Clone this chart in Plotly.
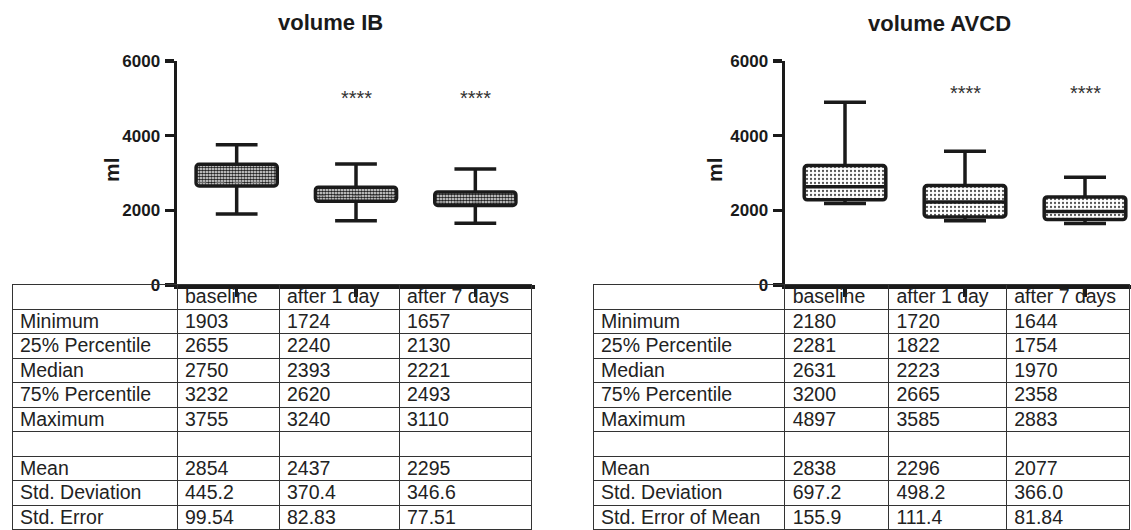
import plotly.graph_objects as go

# ---------------- data ----------------
categories = ["baseline", "after 1 day", "after 7 days"]
stat_labels_ib = ["Minimum", "25% Percentile", "Median", "75% Percentile", "Maximum",
                  "", "Mean", "Std. Deviation", "Std. Error"]
stat_labels_avcd = ["Minimum", "25% Percentile", "Median", "75% Percentile", "Maximum",
                    "", "Mean", "Std. Deviation", "Std. Error of Mean"]

ib_min = [1903, 1724, 1657]
ib_q1 = [2655, 2240, 2130]
ib_median = [2750, 2393, 2221]
ib_q3 = [3232, 2620, 2493]
ib_max = [3755, 3240, 3110]
ib_mean = [2854, 2437, 2295]
ib_sd = [445.2, 370.4, 346.6]
ib_se = [99.54, 82.83, 77.51]

avcd_min = [2180, 1720, 1644]
avcd_q1 = [2281, 1822, 1754]
avcd_median = [2631, 2223, 1970]
avcd_q3 = [3200, 2665, 2358]
avcd_max = [4897, 3585, 2883]
avcd_mean = [2838, 2296, 2077]
avcd_sd = [697.2, 498.2, 366.0]
avcd_se = [155.9, 111.4, 81.84]

y_ticks = [0, 2000, 4000, 6000]
signif_marks = ["", "****", "****"]

# ---------------- layout helpers ----------------
W, H = 1131, 530
FONT = "Liberation Sans, Arial, Helvetica, sans-serif"
INK = "#1a1a1a"
CLEAR = "rgba(0,0,0,0)"


def px(x):
    return x / W


def py(y):
    return 1 - y / H


BOX_W = 0.68
CAP_HALF = 0.175

fig = go.Figure()


def add_boxes(xa, ya, q1, med, q3, mn, mx, pattern, median_line):
    xs = list(range(len(categories)))
    fig.add_trace(go.Bar(
        x=xs, y=[b - a for a, b in zip(q1, q3)], base=q1, width=BOX_W,
        xaxis=xa, yaxis=ya, showlegend=False, hoverinfo="skip",
        marker=dict(color="white", line=dict(color=INK, width=3.5), cornerradius=3,
                    pattern=pattern),
    ))
    wx, wy = [], []
    for i, x in enumerate(xs):
        wx += [x, x, None, x, x, None,
               x - CAP_HALF, x + CAP_HALF, None, x - CAP_HALF, x + CAP_HALF, None]
        wy += [mn[i], q1[i], None, q3[i], mx[i], None,
               mn[i], mn[i], None, mx[i], mx[i], None]
    fig.add_trace(go.Scatter(x=wx, y=wy, mode="lines", xaxis=xa, yaxis=ya,
                             line=dict(color=INK, width=3.5), showlegend=False,
                             hoverinfo="skip"))
    mxs, mys = [], []
    for i, x in enumerate(xs):
        mxs += [x - BOX_W / 2 + 0.01, x + BOX_W / 2 - 0.01, None]
        mys += [med[i], med[i], None]
    fig.add_trace(go.Scatter(x=mxs, y=mys, mode="lines", xaxis=xa, yaxis=ya,
                             line=median_line, showlegend=False, hoverinfo="skip"))


add_boxes("x", "y", ib_q1, ib_median, ib_q3, ib_min, ib_max,
          dict(shape=".", size=3, solidity=0.65, fgcolor="#222", bgcolor="white",
               fillmode="replace"),
          dict(color="#777", width=1, dash="dash"))
add_boxes("x2", "y2", avcd_q1, avcd_median, avcd_q3, avcd_min, avcd_max,
          dict(shape=".", size=4, solidity=0.25, fgcolor="#555", bgcolor="white",
               fillmode="replace"),
          dict(color=INK, width=3.5))


def table_columns(mn, q1, med, q3, mx, mean, sd, se):
    cols = []
    for i in range(len(categories)):
        cols.append([str(mn[i]), str(q1[i]), str(med[i]), str(q3[i]), str(mx[i]), "",
                     str(mean[i]), f"{sd[i]:.1f}", f"{se[i]:.4g}"])
    return cols


TOP = 284      # table top edge (px)
TEXT_LIFT = 4  # text layer sits a little higher inside each row


def add_table(x0, x1, widths, labels, cols):
    header_vals = [""] + categories
    cell_vals = [labels] + cols
    # grid layer (cell borders only)
    fig.add_trace(go.Table(
        domain=dict(x=[px(x0), x1], y=[0, py(TOP)]),
        columnwidth=widths,
        header=dict(values=[""] * len(header_vals), height=25,
                    line=dict(color="#333", width=1), fill=dict(color=CLEAR)),
        cells=dict(values=[[""] * len(c) for c in cell_vals], height=24.5,
                   line=dict(color="#333", width=1), fill=dict(color=CLEAR)),
    ))
    # text layer
    fig.add_trace(go.Table(
        domain=dict(x=[px(x0), x1], y=[TEXT_LIFT / H, py(TOP - TEXT_LIFT)]),
        columnwidth=widths,
        header=dict(values=header_vals, height=25, align="left",
                    line=dict(color=CLEAR, width=0), fill=dict(color=CLEAR),
                    font=dict(family=FONT, size=19.5, color="#222")),
        cells=dict(values=cell_vals, height=24.5, align="left",
                   line=dict(color=CLEAR, width=0), fill=dict(color=CLEAR),
                   font=dict(family=FONT, size=19.5, color="#222")),
    ))


add_table(12, px(531), [165, 102, 120, 132], stat_labels_ib,
          table_columns(ib_min, ib_q1, ib_median, ib_q3, ib_max, ib_mean, ib_sd, ib_se))
add_table(593, 1.0, [192, 104, 118, 124], stat_labels_avcd,
          table_columns(avcd_min, avcd_q1, avcd_median, avcd_q3, avcd_max,
                        avcd_mean, avcd_sd, avcd_se))

xaxis_common = dict(showline=True, linewidth=3.5, linecolor=INK, ticks="outside",
                    ticklen=8, tickwidth=3.5, tickcolor=INK, showticklabels=False,
                    tickvals=list(range(len(categories))), showgrid=False,
                    zeroline=False, fixedrange=True, automargin=False)
yaxis_common = dict(showline=True, linewidth=3.5, linecolor=INK, ticks="outside",
                    ticklen=9, tickwidth=3.5, tickcolor=INK, tickvals=y_ticks,
                    range=[0, 6000], showgrid=False, zeroline=False, fixedrange=True,
                    ticklabelstandoff=1, automargin=False,
                    tickfont=dict(family=FONT, size=17, weight="bold", color=INK),
                    domain=[py(285), py(61)])

ann = []
titles = [("volume IB", 330, 23), ("volume AVCD", 939, 24)]
for t, x, y in titles:
    ann.append(dict(text=t, x=px(x), y=py(y), xref="paper", yref="paper",
                    showarrow=False, xanchor="center", yanchor="middle",
                    font=dict(family=FONT, size=22, weight="bold", color=INK)))
for x in (112, 715):
    ann.append(dict(text="ml", x=px(x), y=py(170), xref="paper", yref="paper",
                    showarrow=False, textangle=-90, xanchor="center", yanchor="middle",
                    font=dict(family=FONT, size=21, weight="bold", color=INK)))
for xa, ya, yv in (("x", "y", 5000), ("x2", "y2", 5150)):
    for i, m in enumerate(signif_marks):
        if m:
            ann.append(dict(text=m, x=i, y=yv, xref=xa, yref=ya, showarrow=False,
                            font=dict(family=FONT, size=20, color="#333")))

fig.update_layout(
    width=W, height=H,
    margin=dict(l=0, r=0, t=0, b=0, pad=0, autoexpand=False),
    paper_bgcolor="white", plot_bgcolor="white",
    showlegend=False,
    xaxis=dict(domain=[px(177), px(535)], range=[-0.5, 2.5], anchor="y", **xaxis_common),
    yaxis=dict(anchor="x", **yaxis_common),
    xaxis2=dict(domain=[px(785), 1.0], range=[-0.5, -0.5 + (W - 785) / 120], anchor="y2",
                **xaxis_common),
    yaxis2=dict(anchor="x2", **yaxis_common),
    annotations=ann,
)

fig.write_html("out.html",
               config={"displayModeBar": False, "staticPlot": True},
               post_script="document.body.style.margin='0px';"
                           "document.body.style.overflow='hidden';")
